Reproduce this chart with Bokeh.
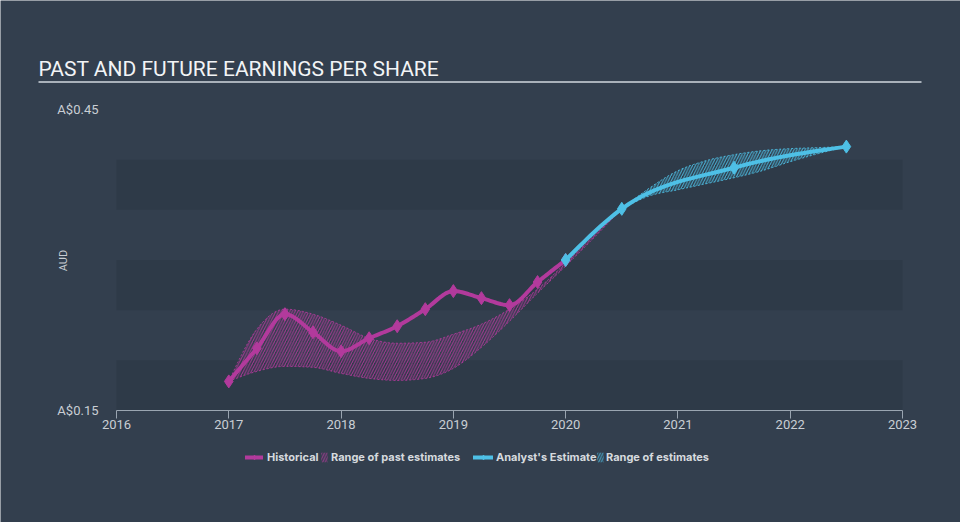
import numpy as np
from bokeh.plotting import figure
from bokeh.models import (Range1d, FixedTicker, PrintfTickFormatter, BoxAnnotation,
                          Label, Legend, LegendItem)
from bokeh.embed import file_html
from bokeh.resources import INLINE

# ---------------- data ----------------
hist_years = [2017.0, 2017.25, 2017.5, 2017.75, 2018.0, 2018.25, 2018.5,
              2018.75, 2019.0, 2019.25, 2019.5, 2019.75, 2020.0]
hist_eps = [0.179, 0.212, 0.246, 0.228, 0.209, 0.222, 0.234,
            0.251, 0.269, 0.262, 0.255, 0.278, 0.300]

est_years = [2020.0, 2020.5, 2021.5, 2022.5]
est_eps = [0.300, 0.351, 0.392, 0.413]

past_range_years = [2017.0, 2017.25, 2017.5, 2017.75, 2018.0, 2018.25, 2018.5,
                    2018.75, 2019.0, 2019.25, 2019.5, 2019.75, 2020.0, 2020.25, 2020.5]
past_range_low = [0.179, 0.189, 0.194, 0.193, 0.187, 0.182, 0.180,
                  0.182, 0.192, 0.213, 0.239, 0.267, 0.294, 0.322, 0.351]
past_range_high = [0.179, 0.231, 0.251, 0.246, 0.235, 0.222, 0.217,
                   0.218, 0.226, 0.236, 0.251, 0.271, 0.297, 0.324, 0.351]

fut_range_years = [2020.5, 2020.75, 2021.0, 2021.25, 2021.5, 2021.75, 2022.0, 2022.25, 2022.5]
fut_range_low = [0.351, 0.364, 0.370, 0.376, 0.382, 0.389, 0.398, 0.406, 0.413]
fut_range_high = [0.351, 0.372, 0.389, 0.399, 0.405, 0.409, 0.411, 0.412, 0.413]

band_low = [0.15, 0.25, 0.35]
band_high = [0.20, 0.30, 0.40]

year_ticks = [2016, 2017, 2018, 2019, 2020, 2021, 2022, 2023]
eps_ticks = [0.15, 0.45]

# ---------------- style / layout ----------------
W, H = 960, 522
BG = "#333f4e"
MAG = "#b23a9c"
BLUE = "#4ec0e6"
TXT = "#c9ced4"

# pixel placement of the data area on the canvas
PX_LEFT, PX_RIGHT = 116, 902     # x of first / last year tick
PX_BOTTOM, PX_TOP = 410, 109     # y of lowest / highest eps tick

x0, x1 = year_ticks[0], year_ticks[-1]
y0, y1 = eps_ticks[0], eps_ticks[-1]
xs_per_px = (x1 - x0) / (PX_RIGHT - PX_LEFT)
ys_per_px = (y1 - y0) / (PX_BOTTOM - PX_TOP)
x_range = Range1d(x0 - PX_LEFT * xs_per_px, x1 + (W - PX_RIGHT) * xs_per_px)
y_range = Range1d(y0 - (H - PX_BOTTOM) * ys_per_px, y1 + PX_TOP * ys_per_px)


def monotone(xs, ys, n=16):
    """Monotone cubic (d3 monotoneX-like) sampling for smooth rendering."""
    x = np.asarray(xs, float)
    y = np.asarray(ys, float)
    h = np.diff(x)
    d = np.diff(y) / h
    m = np.zeros_like(y)
    for i in range(1, len(x) - 1):
        if d[i - 1] * d[i] <= 0:
            m[i] = 0.0
        else:
            p_ = (d[i - 1] * h[i] + d[i] * h[i - 1]) / (h[i - 1] + h[i])
            m[i] = (np.sign(d[i - 1]) + np.sign(d[i])) * min(abs(d[i - 1]), abs(d[i]), 0.5 * abs(p_))
    if len(x) > 2:
        m[0] = (3 * d[0] - m[1]) / 2
        m[-1] = (3 * d[-1] - m[-2]) / 2
    else:
        m[0] = m[-1] = d[0]
    ox, oy = [x[0]], [y[0]]
    for i in range(len(x) - 1):
        t = np.linspace(0, 1, n + 1)[1:]
        h00 = 2 * t**3 - 3 * t**2 + 1
        h10 = t**3 - 2 * t**2 + t
        h01 = -2 * t**3 + 3 * t**2
        h11 = t**3 - t**2
        ox.extend(x[i] + t * h[i])
        oy.extend(h00 * y[i] + h10 * h[i] * m[i] + h01 * y[i + 1] + h11 * h[i] * m[i + 1])
    return np.array(ox), np.array(oy)


p = figure(width=W, height=H, output_backend="svg", toolbar_location=None,
           x_range=x_range, y_range=y_range,
           min_border_left=0, min_border_right=0, min_border_top=0, min_border_bottom=0)
p.border_fill_color = BG
p.background_fill_color = BG
p.outline_line_color = None
p.grid.visible = False

for lo, hi in zip(band_low, band_high):
    p.add_layout(BoxAnnotation(left=x0, right=x1, bottom=lo, top=hi, fill_color="#1c2530",
                               fill_alpha=0.18, line_color=None, level="underlay"))

HATCH = dict(fill_alpha=0, hatch_pattern="/", hatch_scale=5.5, hatch_weight=1.0, hatch_alpha=0.9)

# past range
px, plo = monotone(past_range_years, past_range_low)
_, phi = monotone(past_range_years, past_range_high)
past_area = p.varea(x=px, y1=plo, y2=phi, hatch_color=MAG, **HATCH)
p.line(px, plo, line_color=MAG, line_width=1, line_dash="2 2", line_alpha=0.9)
p.line(px, phi, line_color=MAG, line_width=1, line_dash="2 2", line_alpha=0.9)

# future range
fx, flo = monotone(fut_range_years, fut_range_low)
_, fhi = monotone(fut_range_years, fut_range_high)
fut_area = p.varea(x=fx, y1=flo, y2=fhi, hatch_color=BLUE, **HATCH)
p.line(fx, flo, line_color=BLUE, line_width=1, line_dash="2 2", line_alpha=0.9)
p.line(fx, fhi, line_color=BLUE, line_width=1, line_dash="2 2", line_alpha=0.9)

# historical
hx, hy = monotone(hist_years, hist_eps)
hist_line = p.line(hx, hy, line_color=MAG, line_width=4, line_join="round", line_cap="round")
hist_pts = p.scatter(hist_years, hist_eps, marker="diamond", size=13, fill_color=MAG, line_color=MAG)

# analyst estimate
ex, ey = monotone(est_years, est_eps)
est_line = p.line(ex, ey, line_color=BLUE, line_width=4, line_join="round", line_cap="round")
est_pts = p.scatter(est_years, est_eps, marker="diamond", size=13, fill_color=BLUE, line_color=BLUE)

# axes (fixed inside the full-canvas frame)
xa = p.xaxis[0]
xa.fixed_location = y0
xa.bounds = (x0, x1)
xa.ticker = FixedTicker(ticks=year_ticks)
xa.axis_line_color = "#9aa5b1"
xa.major_tick_line_color = "#9aa5b1"
xa.major_tick_out = 8
xa.major_tick_in = 0
xa.minor_tick_line_color = None
xa.major_label_text_color = TXT
xa.major_label_text_font = "Roboto"
xa.major_label_text_font_size = "13px"
xa.major_label_standoff = 1

ya = p.yaxis[0]
ya.fixed_location = x0
ya.bounds = (y0, y1)
ya.ticker = FixedTicker(ticks=eps_ticks)
ya.formatter = PrintfTickFormatter(format="A$%.2f")
ya.axis_line_color = None
ya.major_tick_line_color = None
ya.minor_tick_line_color = None
ya.major_label_text_color = TXT
ya.major_label_text_font = "Roboto"
ya.major_label_text_font_size = "13px"
ya.major_label_standoff = 12

p.add_layout(Label(x=63, y=H - 260, x_units="screen", y_units="screen", text="AUD",
                   angle=np.pi / 2, text_align="center", text_baseline="middle",
                   text_color=TXT, text_font="Roboto", text_font_size="11px"))

# title + underline
p.add_layout(Label(x=38, y=H - 68, x_units="screen", y_units="screen",
                   text="PAST AND FUTURE EARNINGS PER SHARE", text_align="left",
                   text_baseline="alphabetic", text_color="#f2f4f6",
                   text_font="Roboto", text_font_size="21px"))
p.add_layout(BoxAnnotation(left=38, right=921, bottom=H - 82.5, top=H - 80.5,
                           left_units="screen", right_units="screen",
                           bottom_units="screen", top_units="screen",
                           fill_color="#a9b1ba", fill_alpha=1, line_color=None))

# legends
def mk_legend(label, renderers, loc, gw, standoff=4):
    return Legend(items=[LegendItem(label=label, renderers=renderers)], location=loc,
                  glyph_width=gw, glyph_height=12, label_height=14, label_standoff=standoff,
                  padding=0, margin=0, spacing=0, border_line_color=None,
                  background_fill_alpha=0, label_text_color="#d6dade",
                  label_text_font="Inter", label_text_font_size="11px",
                  label_text_font_style="bold")

LEG_Y = H - 464
p.add_layout(mk_legend("Historical", [hist_line, hist_pts], (245, LEG_Y), 18))
p.add_layout(mk_legend("Range of past estimates", [past_area], (320, LEG_Y), 8, 3))
p.add_layout(mk_legend("Analyst's Estimate", [est_line, est_pts], (473, LEG_Y), 20, 3))
p.add_layout(mk_legend("Range of estimates", [fut_area], (596, LEG_Y), 8, 2))

open("out.html", "w").write(file_html(p, INLINE))
